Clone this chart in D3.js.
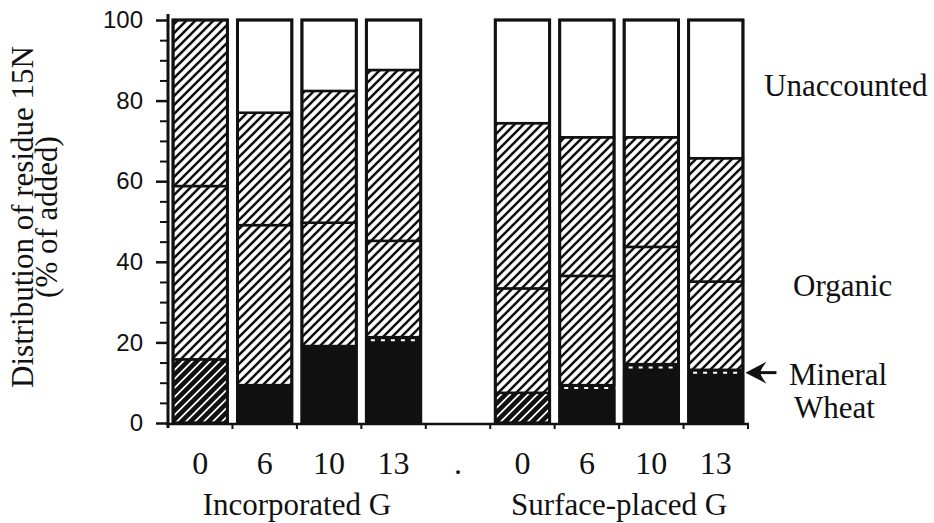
<!DOCTYPE html>
<html>
<head>
<meta charset="utf-8">
<script src="https://cdn.jsdelivr.net/npm/d3@7"></script>
<style>
  body { margin: 0; background: #fff; }
  svg { display: block; }
  .serif { font-family: "Liberation Serif", "DejaVu Serif", serif; }
  .sans { font-family: "Liberation Sans", Arial, sans-serif; }
</style>
</head>
<body>
<div id="chart"></div>
<script>
// categories: 4 rates per placement, with an empty slot between the groups
var groups = ["Incorporated G", "Surface-placed G"];
var rates = ["0", "6", "10", "13"];
var slots = ["i0", "i6", "i10", "i13", "gap", "s0", "s6", "s10", "s13"];
var slotLabels = ["0", "6", "10", "13", ".", "0", "6", "10", "13"];
var barSlots = ["i0", "i6", "i10", "i13", "s0", "s6", "s10", "s13"];

// % of added residue 15N, bottom to top
var wheat    = [15.8, 9.4, 19.1, 19.8, 7.5, 8.0, 13.0, 11.8];
var mineral  = [0, 0, 0, 1.5, 0, 1.4, 1.6, 1.4];
var organic1 = [43.0, 39.7, 30.6, 23.9, 25.9, 27.1, 29.1, 21.9];
var organic2 = [41.2, 27.9, 32.7, 42.4, 41.0, 34.4, 27.2, 30.6];
var unaccounted = [0, 23.0, 17.6, 12.4, 25.6, 29.1, 29.1, 34.3];

var yTicks = [0, 20, 40, 60, 80, 100];
var keys = ["wheat", "mineral", "organic1", "organic2", "unaccounted"];

var data = barSlots.map(function(s, i) {
  return {
    slot: s,
    rate: rates[i % 4],
    wheat: wheat[i],
    mineral: mineral[i],
    organic1: organic1[i],
    organic2: organic2[i],
    unaccounted: unaccounted[i]
  };
});

var W = 934, H = 523;
var svg = d3.select("#chart").append("svg")
  .attr("width", W)
  .attr("height", H);

var x = d3.scaleBand()
  .domain(slots)
  .range([168, 748])
  .paddingInner(0.11)
  .paddingOuter(0.055);

var y = d3.scaleLinear()
  .domain([0, 100])
  .range([423, 20]);

// patterns
var defs = svg.append("defs");
var hatch = defs.append("pattern")
  .attr("id", "hatch")
  .attr("patternUnits", "userSpaceOnUse")
  .attr("width", 9).attr("height", 9);
hatch.append("rect").attr("width", 9).attr("height", 9).attr("fill", "#fff");
hatch.append("path")
  .attr("d", "M-1,10 L10,-1 M-3,3 L3,-3 M6,12 L12,6")
  .attr("stroke", "#111")
  .attr("stroke-width", 2.6);

var dark = defs.append("pattern")
  .attr("id", "darkhatch")
  .attr("patternUnits", "userSpaceOnUse")
  .attr("width", 9).attr("height", 9);
dark.append("rect").attr("width", 9).attr("height", 9).attr("fill", "#fff");
dark.append("path")
  .attr("d", "M-1,10 L10,-1 M-3,3 L3,-3 M6,12 L12,6")
  .attr("stroke", "#111")
  .attr("stroke-width", 4.6);

var stacked = d3.stack().keys(keys)(data);

function fillFor(key, d) {
  if (key == "wheat") return d.data.rate == "0" ? "url(#darkhatch)" : "#111";
  if (key == "mineral") return "#111";
  if (key == "unaccounted") return "#fff";
  return "url(#hatch)";
}

var bars = svg.append("g");

stacked.forEach(function(layer) {
  bars.selectAll(".seg-" + layer.key)
    .data(layer.filter(function(d) { return d[1] - d[0] > 0; }))
    .enter()
    .append("rect")
    .attr("class", "seg-" + layer.key)
    .attr("x", function(d) { return x(d.data.slot) + 1.5; })
    .attr("width", x.bandwidth() - 3)
    .attr("y", function(d) { return y(d[1]); })
    .attr("height", function(d) { return y(d[0]) - y(d[1]); })
    .attr("fill", function(d) { return fillFor(layer.key, d); })
    .attr("stroke", layer.key == "mineral" ? "none" : "#111")
    .attr("stroke-width", 2.5);
});

// mineral: row of white dashes across the thin black band
var minLayer = stacked[1];
bars.selectAll(".mindash")
  .data(minLayer.filter(function(d) { return d[1] - d[0] > 0; }))
  .enter()
  .append("line")
  .attr("x1", function(d) { return x(d.data.slot) + 6; })
  .attr("x2", function(d) { return x(d.data.slot) + x.bandwidth() - 6; })
  .attr("y1", function(d) { return y((d[0] + d[1]) / 2); })
  .attr("y2", function(d) { return y((d[0] + d[1]) / 2); })
  .attr("stroke", "#fff")
  .attr("stroke-width", 2)
  .attr("stroke-dasharray", "4,6");

// bar outlines
bars.selectAll(".outline")
  .data(data)
  .enter()
  .append("rect")
  .attr("x", function(d) { return x(d.slot) + 1.5; })
  .attr("width", x.bandwidth() - 3)
  .attr("y", y(100))
  .attr("height", y(0) - y(100))
  .attr("fill", "none")
  .attr("stroke", "#111")
  .attr("stroke-width", 3);

// y axis
var yAxis = svg.append("g")
  .attr("transform", "translate(168,0)")
  .call(d3.axisLeft(y).tickValues(yTicks).tickSize(12).tickSizeOuter(0).tickPadding(13));
yAxis.attr("font-family", null).attr("font-size", null);
yAxis.select(".domain").remove();
yAxis.selectAll("line").attr("stroke", "#111").attr("stroke-width", 2.5);
yAxis.selectAll("text")
  .attr("class", "sans")
  .style("font-size", "24px")
  .attr("fill", "#111");

var yMinor = svg.append("g")
  .attr("transform", "translate(168,0)")
  .call(d3.axisLeft(y).tickValues(d3.range(5, 100, 5).filter(function(v) { return v % 20; }))
    .tickSize(8).tickSizeOuter(0).tickFormat(""));
yMinor.select(".domain").remove();
yMinor.selectAll("line").attr("stroke", "#111").attr("stroke-width", 2);

svg.append("line")
  .attr("x1", 168).attr("x2", 168)
  .attr("y1", y(0) + 5).attr("y2", y(101.5))
  .attr("stroke", "#111").attr("stroke-width", 3);

// x axis
svg.append("line")
  .attr("x1", 166).attr("x2", 749)
  .attr("y1", y(0) + 1).attr("y2", y(0) + 1)
  .attr("stroke", "#111").attr("stroke-width", 2.5);

var bounds = slots.map(function(s) { return x(s) - x.step() * x.paddingInner() / 2; });
bounds.push(x(slots[slots.length - 1]) + x.bandwidth() + x.step() * x.paddingInner() / 2);
svg.selectAll(".xtick")
  .data(bounds.slice(1))
  .enter()
  .append("line")
  .attr("x1", function(d) { return d; })
  .attr("x2", function(d) { return d; })
  .attr("y1", y(0)).attr("y2", y(0) + 6)
  .attr("stroke", "#111").attr("stroke-width", 2);

svg.selectAll(".xlab")
  .data(slots)
  .enter()
  .append("text")
  .attr("class", "serif")
  .attr("x", function(d) { return x(d) + x.bandwidth() / 2; })
  .attr("y", 474)
  .attr("text-anchor", "middle")
  .style("font-size", "32px")
  .attr("fill", "#111")
  .text(function(d, i) { return slotLabels[i]; });

svg.selectAll(".glab")
  .data(groups)
  .enter()
  .append("text")
  .attr("class", "serif")
  .attr("x", function(d, i) {
    var a = barSlots[i * 4], b = barSlots[i * 4 + 3];
    return (x(a) + x(b) + x.bandwidth()) / 2;
  })
  .attr("y", 515)
  .attr("text-anchor", "middle")
  .style("font-size", "31px")
  .attr("fill", "#111")
  .text(function(d) { return d; });

// y title
var yt = svg.append("text")
  .attr("class", "serif")
  .attr("transform", "translate(33," + 217 + ") rotate(-90)")
  .attr("text-anchor", "middle")
  .style("font-size", "31px")
  .attr("fill", "#111");
yt.append("tspan").attr("x", 0).attr("y", 0).text("Distribution of residue 15N");
yt.append("tspan").attr("x", 0).attr("y", 24).text("(% of added)");

// right-side labels
var rightLabels = [
  { t: "Unaccounted", x: 764, v: 81.1 },
  { t: "Organic", x: 793, v: 31.5 },
  { t: "Mineral", x: 789, v: 9.4 },
  { t: "Wheat", x: 794, v: 1.2 }
];
svg.selectAll(".rlab")
  .data(rightLabels)
  .enter()
  .append("text")
  .attr("class", "serif")
  .attr("x", function(d) { return d.x; })
  .attr("y", function(d) { return y(d.v); })
  .style("font-size", "31px")
  .attr("fill", "#111")
  .text(function(d) { return d.t; });

// arrow pointing at the mineral band of the last bar
var last = data[data.length - 1];
var ax = x(last.slot) + x.bandwidth() + 1;
var ay = y(last.wheat + last.mineral / 2);
var arrow = svg.append("g").attr("transform", "translate(" + ax + "," + ay + ")");
arrow.append("path")
  .attr("d", "M0,0 L21,-11 Q15,-3 15,0 Q15,3 21,11 Z")
  .attr("fill", "#111");
arrow.append("line")
  .attr("x1", 14).attr("x2", 31)
  .attr("y1", 0).attr("y2", 0)
  .attr("stroke", "#111").attr("stroke-width", 3);
</script>
</body>
</html>
